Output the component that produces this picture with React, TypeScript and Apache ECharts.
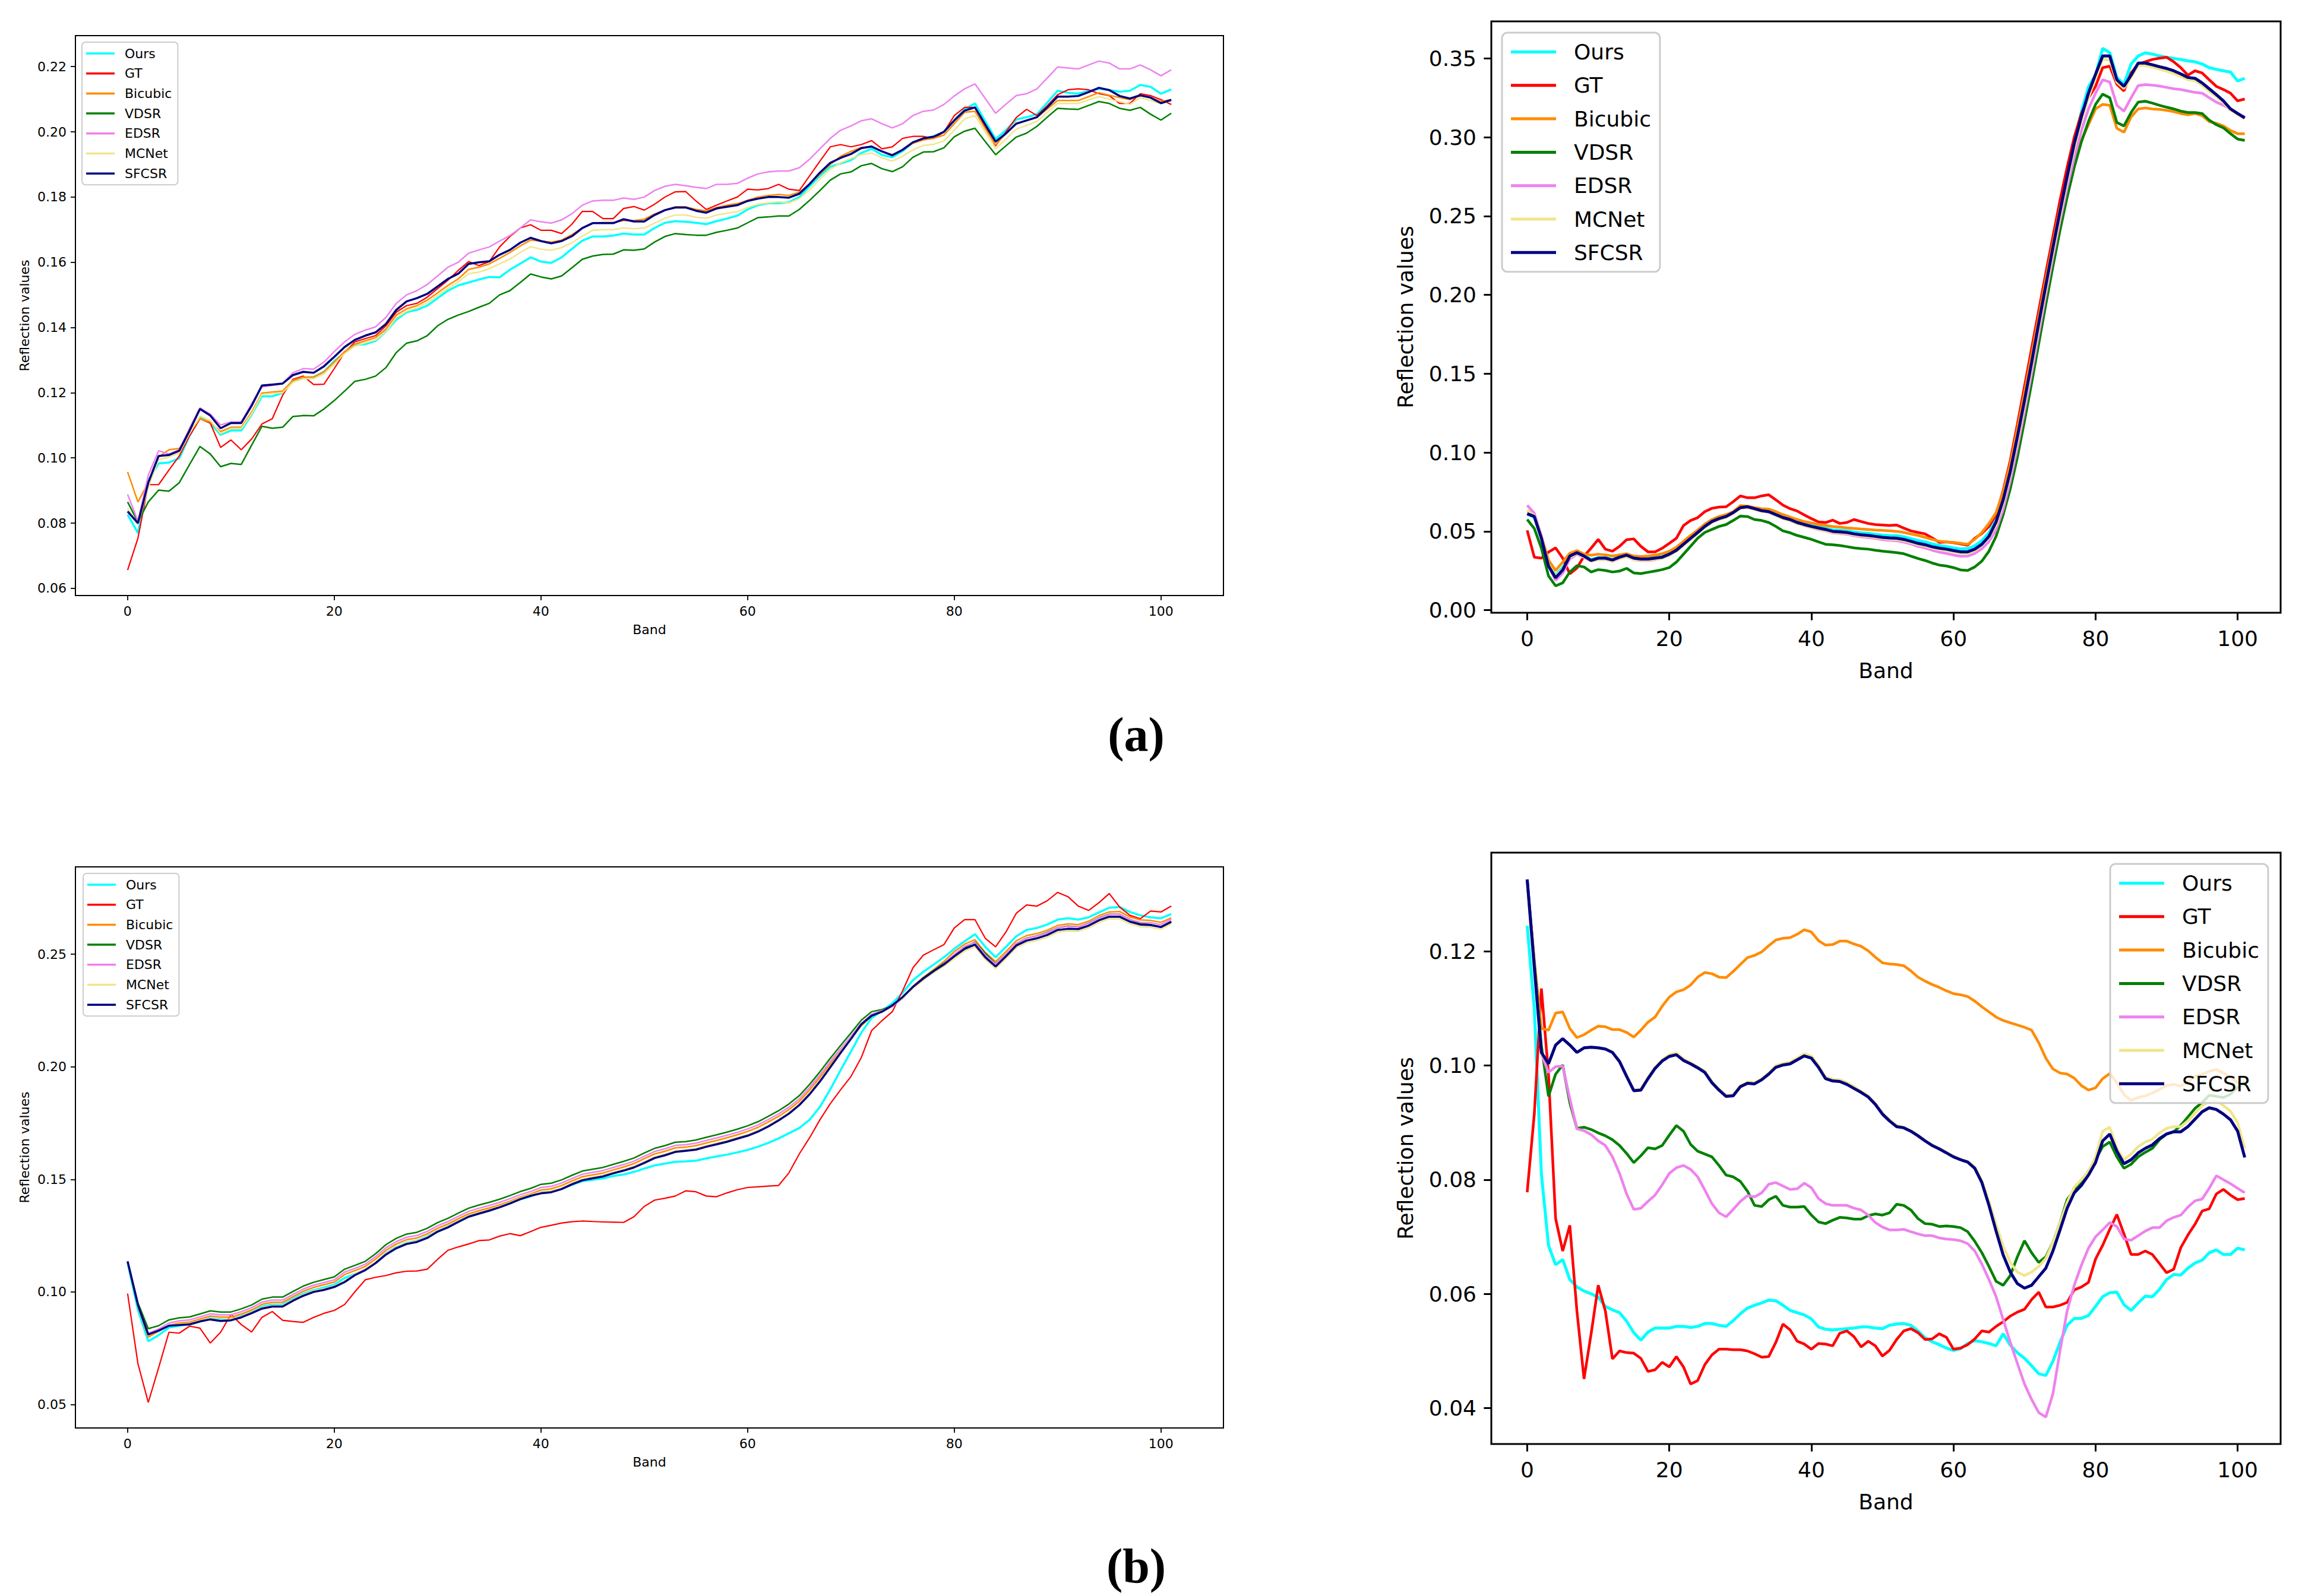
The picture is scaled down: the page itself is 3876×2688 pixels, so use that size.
import React, { useEffect, useRef } from 'react';
import * as echarts from 'echarts';

const SERIES_NAMES = ['Ours', 'GT', 'Bicubic', 'VDSR', 'EDSR', 'MCNet', 'SFCSR'];
const COLORS = ['#00ffff', '#ff0000', '#ff8c00', '#008000', '#ee82ee', '#f0e68c', '#000080'];
const BANDS = Array.from({ length: 102 }, (_, i) => i);
const X_TICKS = [0, 20, 40, 60, 80, 100];
const A_LEFT_Y_TICKS = [0.06, 0.08, 0.1, 0.12, 0.14, 0.16, 0.18, 0.2, 0.22];
const A_RIGHT_Y_TICKS = [0, 0.05, 0.1, 0.15, 0.2, 0.25, 0.3, 0.35];
const B_LEFT_Y_TICKS = [0.05, 0.1, 0.15, 0.2, 0.25];
const B_RIGHT_Y_TICKS = [0.04, 0.06, 0.08, 0.1, 0.12];

// ---------- (a) left ----------
const aL_Ours = [0.0826,0.077,0.0931,0.0983,0.0986,0.0999,0.1068,0.1124,0.1107,0.1071,
0.1084,0.1084,0.1133,0.1189,0.1189,0.1199,0.1235,0.1245,0.1248,0.1264,
0.1297,0.1323,0.1346,0.1349,0.1359,0.1388,0.1424,0.1447,0.1454,0.1467,
0.149,0.1513,0.1529,0.1538,0.1547,0.1555,0.1554,0.1577,0.1596,0.1615,
0.1602,0.1598,0.1615,0.1641,0.1666,0.1679,0.1679,0.1682,0.1688,0.1685,
0.1685,0.1705,0.1721,0.1726,0.1724,0.1721,0.1717,0.1726,0.1734,0.1743,
0.1762,0.1775,0.1781,0.1781,0.1784,0.18,0.1833,0.1865,0.1893,0.1903,
0.1913,0.1935,0.1948,0.1929,0.1922,0.1941,0.1967,0.198,0.1986,0.2,
0.2035,0.2069,0.2087,0.2032,0.1978,0.2005,0.2038,0.2045,0.2054,0.209,
0.2126,0.212,0.2117,0.2125,0.2132,0.2128,0.2123,0.2126,0.2144,0.2138,
0.2117,0.213];
const aL_GT = [0.0656,0.0754,0.0918,0.0918,0.0963,0.1006,0.1068,0.112,0.1107,0.1032,
0.1055,0.1025,0.1058,0.1104,0.112,0.1192,0.1241,0.1251,0.1225,0.1226,
0.1274,0.1323,0.1356,0.1366,0.1375,0.1405,0.1447,0.1467,0.1474,0.1493,
0.1519,0.1545,0.1575,0.1602,0.159,0.1602,0.1647,0.1679,0.1705,0.1715,
0.1698,0.1698,0.1688,0.1717,0.1756,0.1756,0.1734,0.1734,0.1765,0.1771,
0.176,0.1778,0.18,0.1816,0.1817,0.1788,0.1762,0.1775,0.1788,0.18,
0.1824,0.1822,0.1826,0.1839,0.1824,0.182,0.1865,0.191,0.1954,0.1961,
0.1954,0.1961,0.1973,0.1948,0.1954,0.198,0.1986,0.1986,0.198,0.1999,
0.205,0.2075,0.2075,0.2016,0.1957,0.2,0.2044,0.2069,0.205,0.208,
0.2114,0.2129,0.2132,0.2129,0.2117,0.2111,0.2087,0.2087,0.2117,0.2111,
0.2099,0.2084];
const aL_Bicubic = [0.0957,0.0865,0.0924,0.1003,0.1025,0.1029,0.1081,0.112,0.111,0.1081,
0.1094,0.1094,0.114,0.1199,0.1202,0.1205,0.1238,0.1248,0.1248,0.1264,
0.1294,0.1326,0.1349,0.1359,0.1369,0.1395,0.1438,0.1457,0.1467,0.1484,
0.1506,0.1529,0.1549,0.1578,0.1585,0.1595,0.1612,0.163,0.165,0.1668,
0.1665,0.1662,0.1668,0.1685,0.1705,0.172,0.1722,0.1722,0.1728,0.1728,
0.1732,0.1748,0.176,0.177,0.177,0.1762,0.1758,0.1768,0.1775,0.178,
0.179,0.18,0.1805,0.1808,0.1805,0.1815,0.184,0.187,0.19,0.1925,
0.194,0.1952,0.1955,0.194,0.193,0.1945,0.1965,0.1975,0.198,0.199,
0.2025,0.206,0.2063,0.201,0.196,0.1995,0.2026,0.2035,0.2044,0.207,
0.2096,0.2096,0.2096,0.2108,0.212,0.2112,0.2105,0.2099,0.2111,0.2105,
0.2093,0.2099];
const aL_VDSR = [0.0865,0.0803,0.0865,0.0901,0.0898,0.0924,0.098,0.1035,0.1012,0.0973,
0.0983,0.098,0.1039,0.1097,0.1091,0.1094,0.1127,0.113,0.1129,0.115,
0.1176,0.1205,0.1235,0.1241,0.1251,0.1277,0.1323,0.1352,0.1359,0.1375,
0.1405,0.1425,0.1438,0.1449,0.1462,0.1474,0.15,0.1513,0.1538,0.1564,
0.1555,0.1549,0.1558,0.1583,0.1609,0.1619,0.1624,0.1625,0.1638,0.1637,
0.1641,0.1662,0.1679,0.1688,0.1685,0.1683,0.1683,0.1692,0.1698,0.1705,
0.1721,0.1737,0.1739,0.1742,0.1742,0.1762,0.179,0.182,0.1852,0.1871,
0.1877,0.1896,0.1903,0.1887,0.1878,0.1893,0.1922,0.1938,0.1939,0.1951,
0.1985,0.2002,0.2011,0.197,0.193,0.1957,0.1984,0.1996,0.2017,0.2045,
0.2072,0.207,0.2069,0.2081,0.2093,0.2087,0.2072,0.2066,0.2075,0.2054,
0.2036,0.2057];
const aL_EDSR = [0.0888,0.0806,0.0947,0.1022,0.1012,0.1025,0.1091,0.1153,0.1134,0.1101,
0.111,0.111,0.1166,0.1218,0.1222,0.1228,0.1261,0.1274,0.1272,0.1294,
0.1326,0.1356,0.1379,0.1392,0.1402,0.1431,0.1474,0.15,0.1513,0.1532,
0.1558,0.1585,0.16,0.1628,0.1638,0.1647,0.1665,0.1682,0.1705,0.173,
0.1724,0.172,0.173,0.1749,0.1775,0.1788,0.179,0.179,0.1797,0.1793,
0.18,0.182,0.1833,0.1839,0.1835,0.183,0.1826,0.1839,0.1839,0.1842,
0.1858,0.1871,0.1877,0.188,0.188,0.189,0.1916,0.1948,0.198,0.2005,
0.2018,0.2034,0.204,0.2025,0.2012,0.2025,0.205,0.2063,0.2067,0.2084,
0.211,0.2132,0.2147,0.2102,0.2057,0.2085,0.2111,0.2117,0.2132,0.2165,
0.2199,0.2196,0.2193,0.2205,0.2217,0.2211,0.2193,0.2193,0.2205,0.219,
0.2172,0.219];
const aL_MCNet = [0.0845,0.0795,0.091,0.0995,0.1003,0.1015,0.1075,0.1128,0.1115,0.1075,
0.109,0.109,0.1135,0.1195,0.1198,0.12,0.1232,0.1243,0.1243,0.1258,
0.1288,0.132,0.1343,0.1353,0.1362,0.1388,0.143,0.145,0.146,0.1476,
0.1498,0.152,0.154,0.1565,0.157,0.158,0.1595,0.161,0.163,0.1648,
0.164,0.1637,0.1645,0.166,0.168,0.1698,0.17,0.17,0.1705,0.1703,
0.1705,0.172,0.1735,0.1745,0.1745,0.1738,0.1735,0.1745,0.175,0.1755,
0.1768,0.1778,0.1782,0.1785,0.1782,0.1795,0.1822,0.1855,0.1885,0.1905,
0.1918,0.193,0.1935,0.192,0.191,0.1925,0.1945,0.1958,0.1962,0.1972,
0.2005,0.204,0.205,0.2,0.1948,0.1978,0.2008,0.202,0.2032,0.206,
0.2087,0.2087,0.2087,0.2098,0.2108,0.21,0.2093,0.2084,0.2105,0.2096,
0.2087,0.2096];
const aL_SFCSR = [0.0836,0.08,0.0924,0.1006,0.1009,0.1022,0.1084,0.115,0.113,0.1091,
0.1107,0.1107,0.116,0.1222,0.1225,0.1228,0.1254,0.1264,0.1261,0.1281,
0.131,0.134,0.1362,0.1375,0.1385,0.1411,0.1454,0.148,0.149,0.1503,
0.1526,0.1549,0.1565,0.1595,0.16,0.1603,0.1623,0.1638,0.166,0.1675,
0.1665,0.1658,0.1665,0.168,0.1705,0.172,0.172,0.172,0.1732,0.1725,
0.1725,0.1745,0.176,0.1768,0.1768,0.1758,0.1752,0.1765,0.177,0.1775,
0.1788,0.1795,0.18,0.18,0.1798,0.181,0.184,0.1875,0.1905,0.192,
0.1932,0.195,0.1955,0.194,0.1928,0.1945,0.1968,0.198,0.1985,0.2,
0.2035,0.2065,0.2075,0.2022,0.197,0.1995,0.2025,0.2035,0.2045,0.2075,
0.2108,0.2108,0.211,0.2122,0.2135,0.2128,0.211,0.2102,0.2112,0.2105,
0.2088,0.2098];

// ---------- (a) right ----------
const aR_Ours = [0.061,0.059,0.046,0.029,0.022,0.027,0.0345,0.0368,0.0348,0.032,
0.0333,0.0333,0.032,0.0338,0.035,0.0332,0.0327,0.0327,0.0333,0.034,
0.0358,0.0383,0.042,0.0458,0.0495,0.0533,0.0565,0.0584,0.0596,0.0621,
0.0652,0.0657,0.0645,0.0633,0.0627,0.0609,0.059,0.0578,0.056,0.0547,
0.0537,0.0528,0.052,0.0509,0.0506,0.0503,0.0495,0.049,0.0487,0.0481,
0.0476,0.0473,0.0472,0.0465,0.0454,0.0442,0.0433,0.042,0.041,0.0403,
0.0395,0.0388,0.039,0.0408,0.044,0.049,0.058,0.072,0.09,0.112,
0.135,0.159,0.184,0.208,0.232,0.255,0.277,0.298,0.316,0.332,
0.3394,0.3565,0.3536,0.338,0.3337,0.3465,0.3516,0.3536,0.3528,0.3516,
0.3508,0.35,0.3494,0.3485,0.3479,0.3465,0.3442,0.3431,0.3422,0.3414,
0.3357,0.3374];
const aR_GT = [0.0506,0.0336,0.033,0.0368,0.0395,0.033,0.023,0.0267,0.0343,0.0393,
0.0449,0.0387,0.0374,0.0405,0.0447,0.0452,0.0405,0.037,0.037,0.0393,
0.0424,0.0456,0.0537,0.0569,0.0587,0.0625,0.0646,0.0654,0.0656,0.0688,
0.0725,0.0713,0.0713,0.0725,0.0732,0.07,0.0666,0.0644,0.0629,0.0604,
0.0581,0.056,0.0556,0.0571,0.055,0.0556,0.0575,0.0562,0.055,0.0543,
0.054,0.0537,0.054,0.0521,0.0503,0.0493,0.0484,0.0458,0.043,0.0433,
0.0428,0.042,0.0412,0.0456,0.0487,0.0531,0.0606,0.076,0.095,0.118,
0.142,0.166,0.19,0.214,0.237,0.26,0.281,0.3,0.315,0.325,
0.3323,0.3442,0.3451,0.3337,0.3294,0.3408,0.3465,0.3479,0.3494,0.3502,
0.3508,0.3479,0.3442,0.3394,0.3422,0.3408,0.3365,0.3323,0.3303,0.328,
0.3231,0.3243];
const aR_Bicubic = [0.0631,0.0606,0.0468,0.0318,0.0252,0.0305,0.0361,0.0378,0.0355,0.0349,
0.0355,0.0351,0.0343,0.0351,0.0358,0.0343,0.034,0.0343,0.0349,0.0358,
0.0374,0.0399,0.0437,0.0474,0.0508,0.0546,0.0575,0.0594,0.0606,0.0625,
0.0663,0.066,0.065,0.0644,0.0641,0.0625,0.0606,0.059,0.0575,0.0562,
0.0553,0.0543,0.0537,0.0531,0.0527,0.0522,0.0518,0.0515,0.0512,0.0508,
0.0506,0.0503,0.05,0.0493,0.0483,0.0474,0.0462,0.0449,0.0437,0.0433,
0.043,0.0424,0.0418,0.0449,0.0493,0.055,0.0619,0.075,0.093,0.115,
0.138,0.162,0.186,0.21,0.233,0.255,0.272,0.287,0.298,0.308,
0.318,0.3209,0.3203,0.3057,0.3032,0.3129,0.318,0.3186,0.318,0.3177,
0.3171,0.3163,0.3151,0.3143,0.3151,0.3137,0.31,0.3089,0.3072,0.3043,
0.3023,0.3023];
const aR_VDSR = [0.0575,0.0518,0.0393,0.0217,0.0154,0.0173,0.0242,0.0282,0.0274,0.0242,
0.0257,0.0252,0.0242,0.0248,0.0265,0.0236,0.0232,0.024,0.0248,0.0257,
0.027,0.0305,0.0355,0.0405,0.0456,0.0493,0.0512,0.0531,0.0543,0.0569,
0.0597,0.0594,0.0575,0.0569,0.0556,0.0531,0.0503,0.0491,0.0474,0.0462,
0.0449,0.0433,0.0418,0.0415,0.041,0.0403,0.0395,0.039,0.0387,0.038,
0.0374,0.037,0.0365,0.0358,0.0343,0.0328,0.0315,0.0299,0.0286,0.028,
0.027,0.0255,0.0252,0.0274,0.0311,0.0374,0.0468,0.0606,0.077,0.097,
0.12,0.144,0.169,0.194,0.218,0.241,0.262,0.281,0.297,0.31,
0.3209,0.3274,0.3251,0.3094,0.3072,0.3157,0.3223,0.3229,0.3217,0.3203,
0.3191,0.318,0.3166,0.3157,0.3157,0.3151,0.3109,0.308,0.306,0.3023,
0.2989,0.298];
const aR_EDSR = [0.0665,0.0615,0.047,0.028,0.019,0.0235,0.0325,0.0355,0.0335,0.031,
0.0322,0.0322,0.031,0.0328,0.034,0.032,0.0315,0.0315,0.032,0.033,
0.0348,0.0375,0.0413,0.0452,0.049,0.0528,0.0558,0.0578,0.059,0.0615,
0.0648,0.0652,0.064,0.0628,0.0622,0.0602,0.0582,0.0568,0.055,0.0536,
0.0523,0.0512,0.0503,0.049,0.0486,0.0482,0.0472,0.0466,0.0461,0.0455,
0.0448,0.0443,0.044,0.0432,0.042,0.0405,0.0395,0.038,0.0368,0.036,
0.035,0.0342,0.0343,0.036,0.039,0.0435,0.051,0.064,0.082,0.103,
0.126,0.15,0.175,0.2,0.224,0.247,0.268,0.287,0.304,0.318,
0.328,0.3365,0.3351,0.3203,0.3166,0.3251,0.3328,0.3334,0.3331,0.3325,
0.3317,0.3308,0.3303,0.3294,0.3285,0.328,0.3251,0.3223,0.3203,0.318,
0.3151,0.3129];
const aR_MCNet = [0.063,0.06,0.046,0.029,0.0215,0.026,0.0335,0.036,0.0338,0.031,
0.0322,0.0322,0.031,0.0328,0.034,0.032,0.0318,0.0318,0.0322,0.0328,
0.0348,0.0373,0.041,0.0448,0.0486,0.0525,0.0556,0.0575,0.0588,0.0613,
0.0645,0.065,0.0638,0.0626,0.062,0.06,0.0581,0.0568,0.0549,0.0536,
0.0524,0.0514,0.0505,0.0493,0.049,0.0486,0.0477,0.0471,0.0467,0.0461,
0.0455,0.045,0.0448,0.0441,0.0429,0.0416,0.0407,0.0394,0.0384,0.0378,
0.0369,0.0361,0.0361,0.0378,0.041,0.046,0.054,0.068,0.086,0.107,
0.13,0.154,0.179,0.203,0.227,0.25,0.272,0.293,0.31,0.325,
0.338,0.3495,0.349,0.335,0.331,0.338,0.3455,0.3455,0.3445,0.3432,
0.342,0.3405,0.3385,0.3365,0.3358,0.333,0.3292,0.3258,0.322,0.3172,
0.3145,0.312];
const aR_SFCSR = [0.0612,0.0594,0.0456,0.028,0.0205,0.0255,0.0343,0.0365,0.0343,0.0315,
0.033,0.033,0.0318,0.0336,0.0349,0.033,0.0324,0.0324,0.033,0.0336,
0.0355,0.038,0.0418,0.0456,0.0493,0.0531,0.0562,0.0581,0.0594,0.0619,
0.065,0.0656,0.0644,0.0631,0.0625,0.0606,0.0587,0.0575,0.0556,0.0543,
0.0531,0.0521,0.0512,0.05,0.0497,0.0493,0.0484,0.0478,0.0474,0.0468,
0.0462,0.0458,0.0456,0.0449,0.0437,0.0424,0.0415,0.0402,0.0393,0.0387,
0.0378,0.037,0.037,0.0387,0.0418,0.0468,0.056,0.07,0.088,0.11,
0.133,0.157,0.182,0.206,0.23,0.253,0.275,0.296,0.313,0.328,
0.34,0.3516,0.3516,0.3365,0.3323,0.3394,0.3471,0.3471,0.346,0.3448,
0.3437,0.3422,0.3402,0.338,0.3374,0.3345,0.3308,0.3271,0.3231,0.318,
0.3151,0.3123];

// ---------- (b) left ----------
const bL_Ours = [0.113,0.092,0.0781,0.0808,0.0842,0.085,0.0856,0.0869,0.0883,0.0878,
0.0878,0.0893,0.0912,0.0935,0.0944,0.0944,0.0969,0.0992,0.1008,0.1019,
0.1032,0.1062,0.108,0.1098,0.113,0.1172,0.12,0.1219,0.1228,0.1246,
0.1272,0.1292,0.1315,0.1338,0.1352,0.1364,0.1378,0.1394,0.1412,0.1425,
0.1443,0.1446,0.1458,0.1476,0.1492,0.1498,0.1504,0.1515,0.1522,0.1533,
0.1548,0.1562,0.157,0.1578,0.158,0.1583,0.1593,0.1602,0.161,0.162,
0.1631,0.1645,0.1662,0.1682,0.1705,0.1728,0.1765,0.1822,0.19,0.1985,
0.2068,0.2152,0.2217,0.2249,0.2282,0.2329,0.2385,0.2422,0.2454,0.2487,
0.2524,0.2558,0.2589,0.2533,0.2487,0.2533,0.258,0.2608,0.2617,0.2632,
0.2654,0.266,0.2654,0.2664,0.2686,0.2707,0.271,0.2688,0.2673,0.2664,
0.266,0.2679];
const bL_GT = [0.0993,0.0681,0.0509,0.0663,0.0821,0.0817,0.0848,0.0839,0.0773,0.0821,
0.09,0.0855,0.0822,0.0887,0.0913,0.0874,0.0869,0.0865,0.0887,0.0905,
0.0918,0.0944,0.1001,0.1054,0.1065,0.1073,0.1085,0.1092,0.1093,0.1101,
0.1145,0.1185,0.12,0.1213,0.1228,0.1231,0.1248,0.1259,0.125,0.1268,
0.1287,0.1296,0.1306,0.1312,0.1315,0.1313,0.1311,0.131,0.1309,0.1334,
0.138,0.1408,0.1416,0.1426,0.1449,0.1445,0.1426,0.1423,0.144,0.1454,
0.1464,0.1467,0.147,0.1473,0.1529,0.1613,0.1685,0.1765,0.1836,0.1898,
0.1957,0.2041,0.2161,0.2205,0.2245,0.2338,0.244,0.2496,0.252,0.2543,
0.2617,0.2654,0.2654,0.2571,0.2533,0.2599,0.2682,0.2719,0.2714,0.2738,
0.2775,0.2756,0.2714,0.2695,0.2729,0.277,0.271,0.2673,0.2658,0.2692,
0.2688,0.2714];
const bL_Bicubic = [0.1132,0.0935,0.0799,0.0825,0.0852,0.0862,0.0866,0.0879,0.0893,0.0888,
0.0888,0.0902,0.092,0.0945,0.0954,0.0954,0.0979,0.1003,0.102,0.1032,
0.1044,0.1077,0.1095,0.1113,0.1146,0.1185,0.1213,0.1232,0.124,0.1258,
0.1283,0.1302,0.1325,0.1347,0.1361,0.1373,0.1387,0.1403,0.1421,0.1435,
0.1453,0.1458,0.1473,0.1493,0.1512,0.152,0.1528,0.1542,0.1555,0.157,
0.1592,0.1613,0.1625,0.164,0.1643,0.165,0.1662,0.1673,0.1685,0.1698,
0.1713,0.1731,0.1755,0.178,0.181,0.1847,0.1897,0.1953,0.2013,0.207,
0.2125,0.2182,0.2225,0.2245,0.2268,0.2308,0.2358,0.2398,0.2432,0.2468,
0.2512,0.2545,0.2565,0.2508,0.2468,0.2512,0.256,0.2583,0.2592,0.2607,
0.2628,0.2635,0.2632,0.2647,0.2672,0.2688,0.269,0.2666,0.2653,0.265,
0.2642,0.2662];
const bL_VDSR = [0.1136,0.0952,0.0837,0.085,0.0876,0.0885,0.0889,0.0902,0.0916,0.0911,
0.0911,0.0925,0.0942,0.0968,0.0977,0.0977,0.1002,0.1026,0.1043,0.1055,
0.1067,0.1101,0.1118,0.1136,0.117,0.121,0.1238,0.1257,0.1265,0.1283,
0.1308,0.1327,0.135,0.1372,0.1386,0.1398,0.1412,0.1428,0.1446,0.146,
0.1478,0.1483,0.1498,0.1518,0.1537,0.1545,0.1553,0.1567,0.158,0.1595,
0.1617,0.1638,0.165,0.1665,0.1668,0.1675,0.1687,0.1698,0.171,0.1723,
0.1738,0.1756,0.178,0.1805,0.1835,0.1872,0.1922,0.1978,0.2038,0.2095,
0.215,0.2207,0.2245,0.2255,0.227,0.2305,0.2355,0.2395,0.2428,0.246,
0.2495,0.253,0.2555,0.2505,0.2458,0.25,0.2548,0.2572,0.2582,0.2598,
0.2618,0.2625,0.2622,0.2638,0.2662,0.2678,0.2678,0.2655,0.2638,0.2632,
0.262,0.2642];
const bL_EDSR = [0.1134,0.0945,0.0816,0.0835,0.0862,0.0872,0.0876,0.0889,0.0903,0.0898,
0.0898,0.0912,0.093,0.0955,0.0964,0.0964,0.0989,0.1013,0.103,0.1042,
0.1054,0.1088,0.1105,0.1123,0.1157,0.1196,0.1224,0.1243,0.1251,0.1269,
0.1294,0.1313,0.1336,0.1358,0.1372,0.1384,0.1398,0.1414,0.1432,0.1446,
0.1464,0.1469,0.1484,0.1504,0.1523,0.1531,0.1539,0.1553,0.1566,0.1581,
0.1603,0.1624,0.1636,0.1651,0.1654,0.1661,0.1673,0.1684,0.1696,0.1709,
0.1724,0.1742,0.1766,0.1791,0.1821,0.1858,0.1908,0.1964,0.2024,0.2081,
0.2136,0.2193,0.2234,0.225,0.2268,0.2304,0.2353,0.2392,0.2424,0.2458,
0.25,0.2535,0.2553,0.2497,0.2456,0.25,0.2549,0.2571,0.2581,0.2596,
0.2618,0.2624,0.2622,0.2637,0.2661,0.2677,0.2678,0.2655,0.2642,0.264,
0.2632,0.2655];
const bL_MCNet = [0.1136,0.0945,0.0808,0.0826,0.0852,0.0856,0.086,0.0873,0.0882,0.0876,
0.0879,0.0892,0.0911,0.0931,0.094,0.094,0.0966,0.0988,0.1005,0.1014,
0.1027,0.1049,0.108,0.1102,0.1133,0.1171,0.1199,0.1218,0.1227,0.1245,
0.1273,0.1292,0.1316,0.1339,0.1353,0.1366,0.1381,0.1398,0.1417,0.1432,
0.1443,0.1448,0.1462,0.1483,0.1501,0.151,0.1518,0.1532,0.1544,0.1558,
0.1578,0.16,0.1612,0.1627,0.1632,0.1637,0.165,0.1661,0.1672,0.1686,
0.1699,0.1717,0.174,0.1767,0.1797,0.1835,0.1883,0.194,0.2003,0.2067,
0.2129,0.2192,0.2229,0.2246,0.2272,0.2306,0.235,0.2386,0.2418,0.2447,
0.2481,0.2514,0.2533,0.2477,0.2436,0.2481,0.2529,0.2551,0.2561,0.2576,
0.2598,0.2603,0.2602,0.2617,0.2641,0.2657,0.2657,0.2635,0.2622,0.262,
0.2611,0.2635];
const bL_SFCSR = [0.1136,0.0943,0.0811,0.0828,0.085,0.0853,0.0856,0.0869,0.0878,0.0871,
0.0874,0.0887,0.0906,0.0926,0.0935,0.0935,0.0961,0.0983,0.1,0.1009,
0.1022,0.1044,0.1075,0.1097,0.1128,0.1166,0.1194,0.1213,0.1222,0.124,
0.1268,0.1287,0.1311,0.1334,0.1348,0.1361,0.1376,0.1393,0.1412,0.1427,
0.1438,0.1443,0.1457,0.1478,0.1496,0.1505,0.1513,0.1527,0.1539,0.1553,
0.1573,0.1595,0.1607,0.1622,0.1627,0.1632,0.1645,0.1656,0.1667,0.1681,
0.1694,0.1712,0.1735,0.1762,0.1792,0.183,0.1878,0.1935,0.1998,0.2062,
0.2124,0.2189,0.2227,0.2245,0.2273,0.231,0.2355,0.2392,0.2425,0.2455,
0.2491,0.2524,0.2543,0.2487,0.2446,0.2491,0.2539,0.2561,0.2571,0.2586,
0.2608,0.2613,0.2612,0.2627,0.2651,0.2667,0.2667,0.2645,0.2632,0.263,
0.2621,0.2645];

// ---------- (b) right ----------
const bR_Ours = [0.1245,0.11,0.081,0.0685,0.0651,0.066,0.0625,0.0612,0.0605,0.06,
0.0594,0.0578,0.0572,0.0567,0.0552,0.0532,0.0519,0.0533,0.054,0.054,
0.054,0.0543,0.0543,0.0541,0.0543,0.0548,0.0548,0.0545,0.0543,0.0553,
0.0565,0.0575,0.058,0.0584,0.0589,0.0588,0.058,0.0571,0.0567,0.0563,
0.0556,0.0542,0.0538,0.0537,0.0538,0.0539,0.054,0.0542,0.0542,0.054,
0.0539,0.0545,0.0547,0.0548,0.0545,0.0535,0.0523,0.0516,0.0511,0.0505,
0.0501,0.0504,0.0513,0.0518,0.0516,0.0513,0.0509,0.053,0.051,0.0497,
0.0487,0.0474,0.046,0.0457,0.0482,0.0515,0.0545,0.0557,0.0557,0.0562,
0.0578,0.0595,0.0602,0.0603,0.0581,0.0571,0.0584,0.0596,0.0595,0.0608,
0.0625,0.0634,0.0633,0.0645,0.0654,0.0659,0.0672,0.0677,0.0669,0.0669,
0.068,0.0677];
const bR_GT = [0.0778,0.0915,0.1135,0.0985,0.0732,0.0675,0.072,0.057,0.0451,0.053,
0.0615,0.057,0.0486,0.05,0.0497,0.0496,0.0487,0.0464,0.0467,0.048,
0.0472,0.049,0.0472,0.0442,0.0448,0.0476,0.0493,0.0503,0.0503,0.0502,
0.0502,0.05,0.0495,0.0489,0.049,0.0515,0.0547,0.0537,0.0517,0.0512,
0.0503,0.0513,0.0512,0.0509,0.0531,0.0535,0.0525,0.0507,0.0517,0.0509,
0.0491,0.0501,0.052,0.0535,0.0539,0.0532,0.052,0.0521,0.053,0.0524,
0.0503,0.0505,0.0511,0.0521,0.0535,0.0533,0.0543,0.0551,0.0561,0.0568,
0.0573,0.059,0.0603,0.0577,0.0577,0.058,0.0585,0.0607,0.0612,0.062,
0.0661,0.0685,0.0713,0.0739,0.0705,0.0669,0.0669,0.0675,0.0669,0.0653,
0.0637,0.0643,0.0681,0.0703,0.0722,0.0745,0.0749,0.0775,0.0783,0.0773,
0.0765,0.0767];
const bR_Bicubic = [0.1325,0.1185,0.1065,0.1062,0.1092,0.1094,0.1065,0.1049,0.1054,0.1062,
0.1069,0.1068,0.1063,0.1063,0.1058,0.105,0.1062,0.1076,0.1085,0.1104,
0.112,0.1129,0.1133,0.1141,0.1155,0.1163,0.1161,0.1155,0.1154,0.1165,
0.1177,0.1189,0.1193,0.1199,0.121,0.122,0.1223,0.1224,0.123,0.1238,
0.1234,0.1219,0.1211,0.1212,0.1218,0.1218,0.1213,0.1209,0.1201,0.119,
0.118,0.1178,0.1177,0.1175,0.1166,0.1155,0.1148,0.1142,0.1137,0.1131,
0.1126,0.1124,0.1121,0.1113,0.1103,0.1094,0.1085,0.1079,0.1075,0.1071,
0.1067,0.1062,0.104,0.1013,0.0994,0.0987,0.0985,0.0978,0.0965,0.0957,
0.0961,0.0977,0.0986,0.097,0.0949,0.0939,0.0944,0.0947,0.0952,0.0958,
0.0965,0.0967,0.0964,0.0972,0.0981,0.0985,0.099,0.0993,0.0987,0.098,
0.097,0.0965];
const bR_VDSR = [0.1326,0.118,0.1035,0.0946,0.0985,0.1001,0.0935,0.089,0.0892,0.0888,
0.0882,0.0877,0.087,0.086,0.0846,0.083,0.0842,0.0856,0.0854,0.086,
0.0878,0.0895,0.0885,0.0862,0.085,0.0845,0.084,0.0825,0.0808,0.0805,
0.0797,0.078,0.0755,0.0753,0.0765,0.0771,0.0755,0.0752,0.0752,0.0753,
0.0738,0.0726,0.0723,0.0729,0.0734,0.0733,0.0731,0.0731,0.0737,0.074,
0.0738,0.0742,0.0757,0.0755,0.0747,0.0732,0.0723,0.0722,0.0718,0.0719,
0.0718,0.0716,0.0709,0.0692,0.0672,0.0648,0.0622,0.0615,0.0632,0.0665,
0.0693,0.0672,0.0655,0.0665,0.069,0.0725,0.0765,0.0782,0.0795,0.0815,
0.0835,0.0858,0.0866,0.084,0.082,0.0827,0.084,0.0848,0.0855,0.087,
0.088,0.0884,0.0895,0.091,0.0925,0.0935,0.0948,0.0946,0.0944,0.095,
0.0962,0.0972];
const bR_EDSR = [0.1326,0.1175,0.102,0.0988,0.0998,0.0999,0.0942,0.0889,0.0886,0.0879,
0.0868,0.086,0.084,0.0811,0.0775,0.0748,0.075,0.0762,0.0773,0.0791,
0.0811,0.0821,0.0825,0.0818,0.0805,0.0782,0.0758,0.0742,0.0735,0.0748,
0.0762,0.0772,0.077,0.0777,0.0792,0.0795,0.0789,0.0783,0.0784,0.0794,
0.0786,0.0767,0.0758,0.0755,0.0755,0.0755,0.075,0.0747,0.0738,0.0725,
0.0717,0.0712,0.0712,0.0713,0.0709,0.0705,0.0702,0.0702,0.0698,0.0696,
0.0695,0.0693,0.0688,0.0675,0.0652,0.0625,0.0595,0.0555,0.0515,0.0478,
0.0442,0.0415,0.0392,0.0384,0.0425,0.05,0.057,0.0615,0.065,0.068,
0.07,0.0712,0.0725,0.0718,0.0696,0.0694,0.0702,0.071,0.0716,0.0716,
0.0728,0.0734,0.0738,0.0752,0.0763,0.0766,0.0785,0.0807,0.08,0.0793,
0.0785,0.0777];
const bR_MCNet = [0.1322,0.117,0.102,0.1003,0.1036,0.1047,0.1036,0.1023,0.1031,0.1032,
0.1031,0.1029,0.1023,0.1007,0.0981,0.0958,0.0959,0.0979,0.0997,0.101,
0.1019,0.1022,0.1012,0.1005,0.0998,0.099,0.0972,0.0959,0.0948,0.0949,
0.0965,0.0971,0.097,0.0977,0.0987,0.1,0.1004,0.1006,0.1013,0.1021,
0.1017,0.1,0.098,0.0976,0.0975,0.097,0.0963,0.0955,0.0947,0.0934,
0.0917,0.0905,0.0895,0.0892,0.0886,0.0878,0.0869,0.0861,0.0855,0.0848,
0.0841,0.0836,0.0832,0.0822,0.0798,0.0762,0.0722,0.0684,0.0655,0.0638,
0.0632,0.0638,0.0648,0.0662,0.069,0.0725,0.076,0.0787,0.08,0.0815,
0.084,0.0885,0.0892,0.0855,0.0835,0.0845,0.0858,0.0866,0.0871,0.0882,
0.089,0.0893,0.0893,0.0903,0.0916,0.093,0.0937,0.0938,0.093,0.092,
0.09,0.0855];
const bR_SFCSR = [0.1326,0.1173,0.1023,0.1003,0.1036,0.1047,0.1036,0.1023,0.1031,0.1032,
0.1031,0.1029,0.1023,0.1007,0.0981,0.0956,0.0957,0.0977,0.0995,0.1008,
0.1016,0.1019,0.1009,0.1003,0.0996,0.0988,0.097,0.0957,0.0946,0.0947,
0.0963,0.0969,0.0968,0.0975,0.0985,0.0997,0.1001,0.1003,0.101,0.1017,
0.1013,0.0997,0.0977,0.0973,0.0972,0.0967,0.096,0.0953,0.0945,0.0932,
0.0915,0.0903,0.0893,0.0891,0.0885,0.0877,0.0868,0.086,0.0854,0.0847,
0.084,0.0835,0.0831,0.082,0.0795,0.0755,0.071,0.0668,0.0638,0.0618,
0.061,0.0615,0.063,0.0645,0.0675,0.0712,0.075,0.0777,0.079,0.0808,
0.083,0.0868,0.088,0.085,0.0828,0.0835,0.0847,0.0855,0.0861,0.0872,
0.088,0.0884,0.0884,0.0893,0.0906,0.0919,0.0926,0.0923,0.0915,0.0905,
0.0885,0.0839];

const SMALL = {
  font: 22, tickLen: 8, tickW: 1.8, border: 2, labelMargin: 15, yNameGap: 75, xNameGap: 46,
  widths: [3.5, 2.2, 2.5, 2.5, 2.5, 2.5, 3.5],
  legend: { itemWidth: 48, itemHeight: 3.5, itemGap: 11.7, padding: [8, 10, 8, 7], textPad: 12, border: 2, radius: 6 },
};
const LARGE = {
  font: 36, tickLen: 12.6, tickW: 3, border: 3, labelMargin: 25, yNameGap: 127, xNameGap: 79,
  widths: [5, 4.5, 4.5, 4.5, 4.5, 4.5, 5],
  legend: { itemWidth: 76, itemHeight: 5, itemGap: 20.3, padding: [14.5, 15, 14.5, 15], textPad: 25, border: 3, radius: 9 },
};

const PANELS = [
  { grid: { left: 127, top: 60, width: 1933, height: 943 }, yTicks: A_LEFT_Y_TICKS, style: SMALL, legendPos: { left: 138, top: 71 },
    data: [aL_Ours, aL_GT, aL_Bicubic, aL_VDSR, aL_EDSR, aL_MCNet, aL_SFCSR] },
  { grid: { left: 2511, top: 36, width: 1329, height: 996 }, yTicks: A_RIGHT_Y_TICKS, style: LARGE, legendPos: { left: 2529, top: 55 },
    data: [aR_Ours, aR_GT, aR_Bicubic, aR_VDSR, aR_EDSR, aR_MCNet, aR_SFCSR] },
  { grid: { left: 127, top: 1460, width: 1933, height: 945 }, yTicks: B_LEFT_Y_TICKS, style: SMALL, legendPos: { left: 140, top: 1471 },
    data: [bL_Ours, bL_GT, bL_Bicubic, bL_VDSR, bL_EDSR, bL_MCNet, bL_SFCSR] },
  { grid: { left: 2511, top: 1436, width: 1329, height: 996 }, yTicks: B_RIGHT_Y_TICKS, style: LARGE, legendPos: { left: 3553, top: 1455 },
    data: [bR_Ours, bR_GT, bR_Bicubic, bR_VDSR, bR_EDSR, bR_MCNet, bR_SFCSR] },
];

const FONT = 'DejaVu Sans';

function buildOption() {
  const grids: any[] = [];
  const xAxes: any[] = [];
  const yAxes: any[] = [];
  const legends: any[] = [];
  const series: any[] = [];
  PANELS.forEach((p, pi) => {
    const s = p.style;
    grids.push({ ...p.grid, show: true, borderColor: '#000', borderWidth: s.border, backgroundColor: 'transparent', containLabel: false });
    let lo = Infinity, hi = -Infinity;
    p.data.forEach((arr) => arr.forEach((v) => { if (v < lo) lo = v; if (v > hi) hi = v; }));
    const m = (hi - lo) * 0.05;
    const xm = (101 - 0) * 0.05;
    const common = (ticks: number[], fmt: (v: number) => string) => ({
      axisLine: { show: false, onZero: false },
      splitLine: { show: false },
      axisTick: { show: true, inside: false, length: s.tickLen, lineStyle: { color: '#000', width: s.tickW }, customValues: ticks },
      axisLabel: { show: true, margin: s.labelMargin, color: '#000', fontSize: s.font, fontFamily: FONT, customValues: ticks, formatter: fmt },
      nameTextStyle: { color: '#000', fontSize: s.font, fontFamily: FONT },
    });
    xAxes.push({
      type: 'value', gridIndex: pi, position: 'bottom', min: 0 - xm, max: 101 + xm,
      name: 'Band', nameLocation: 'middle', nameGap: s.xNameGap,
      ...common(X_TICKS, (v: number) => String(Math.round(v))),
    });
    yAxes.push({
      type: 'value', gridIndex: pi, position: 'left', min: lo - m, max: hi + m,
      name: 'Reflection values', nameLocation: 'middle', nameGap: s.yNameGap, nameRotate: 90,
      ...common(p.yTicks, (v: number) => v.toFixed(2)),
    });
    legends.push({
      orient: 'vertical', left: p.legendPos.left, top: p.legendPos.top,
      data: SERIES_NAMES, icon: 'rect', selectedMode: false,
      itemWidth: s.legend.itemWidth, itemHeight: s.legend.itemHeight, itemGap: s.legend.itemGap,
      padding: s.legend.padding, backgroundColor: 'rgba(255,255,255,0.8)',
      borderColor: '#cccccc', borderWidth: s.legend.border, borderRadius: s.legend.radius,
      itemStyle: { borderWidth: 0 },
      textStyle: { color: '#000', fontSize: s.font, fontFamily: FONT, lineHeight: s.font, padding: [0, 0, 0, s.legend.textPad] },
    });
    p.data.forEach((arr, si) => {
      series.push({
        type: 'line', name: SERIES_NAMES[si], xAxisIndex: pi, yAxisIndex: pi,
        data: BANDS.map((b, k) => [b, arr[k]]),
        showSymbol: false, symbol: 'none', smooth: false, clip: true,
        color: COLORS[si],
        itemStyle: { color: COLORS[si] },
        lineStyle: { color: COLORS[si], width: s.widths[si] },
        emphasis: { disabled: true },
        z: 2,
      });
    });
  });
  return {
    animation: false,
    backgroundColor: '#ffffff',
    grid: grids,
    xAxis: xAxes,
    yAxis: yAxes,
    legend: legends,
    series,
    graphic: [
      { type: 'text', x: 1913, y: 1237, style: { text: '(a)', fontSize: 82, fontWeight: 'bold', fontFamily: 'Liberation Serif', fill: '#000', align: 'center', verticalAlign: 'middle' } },
      { type: 'text', x: 1913, y: 2637, style: { text: '(b)', fontSize: 82, fontWeight: 'bold', fontFamily: 'Liberation Serif', fill: '#000', align: 'center', verticalAlign: 'middle' } },
    ],
  };
}

export default function App() {
  const ref = useRef<HTMLDivElement>(null);
  useEffect(() => {
    if (!ref.current) return;
    const chart = echarts.init(ref.current, null, { renderer: 'svg' });
    chart.setOption(buildOption() as any);
    return () => chart.dispose();
  }, []);
  return (
    <div
      ref={ref}
      style={{ position: 'absolute', left: 0, top: 0, width: 3876, height: 2688, background: '#ffffff' }}
    />
  );
}
